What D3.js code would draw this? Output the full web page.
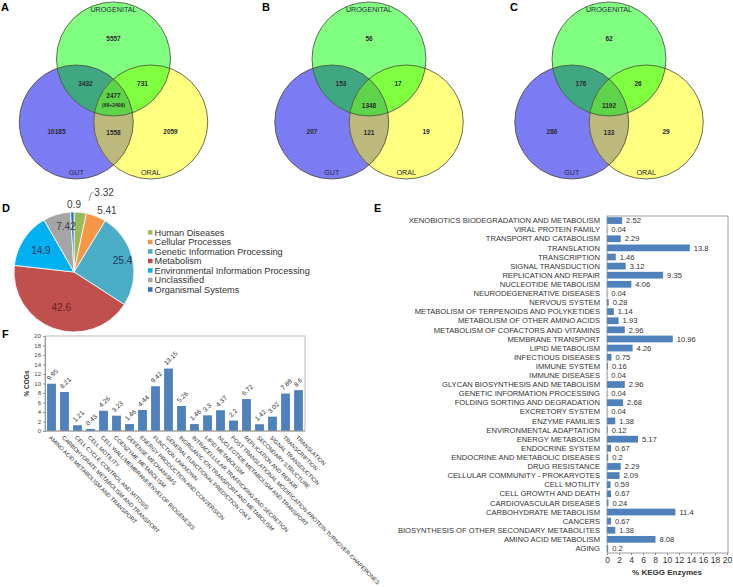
<!DOCTYPE html>
<html><head><meta charset="utf-8">
<script src="https://cdn.jsdelivr.net/npm/d3@7"></script>
<style>body{margin:0;background:#fff}svg{display:block;font-family:"Liberation Sans",Arial,sans-serif}</style>
</head><body><svg id="c" width="733" height="587"></svg>
<script>
// ---------- DATA ----------
const vennSetNames = ["UROGENITAL", "GUT", "ORAL"];
const vennRegionKeys = ["U", "G", "O", "UG", "UO", "GO", "UGO"];
const vennA = [5557, 10185, 2059, 3432, 731, 1558, 2477];
const vennB = [56, 207, 19, 153, 17, 121, 1348];
const vennC = [62, 286, 29, 176, 26, 133, 1192];
const vennANote = "(68+2409)";

const pieCategories = ["Human Diseases", "Cellular Processes", "Genetic Information Processing", "Metabolism", "Environmental Information Processing", "Unclassified", "Organismal Systems"];
const pieValues = [3.32, 5.41, 25.4, 42.6, 14.9, 7.42, 0.9];
const pieLabels = ["3.32", "5.41", "25.4", "42.6", "14.9", "7.42", "0.9"];

const keggCategories = ["XENOBIOTICS BIODEGRADATION AND METABOLISM", "VIRAL PROTEIN FAMILY", "TRANSPORT AND CATABOLISM", "TRANSLATION", "TRANSCRIPTION", "SIGNAL TRANSDUCTION", "REPLICATION AND REPAIR", "NUCLEOTIDE METABOLISM", "NEURODEGENERATIVE DISEASES", "NERVOUS SYSTEM", "METABOLISM OF TERPENOIDS AND POLYKETIDES", "METABOLISM OF OTHER AMINO ACIDS", "METABOLISM OF COFACTORS AND VITAMINS", "MEMBRANE TRANSPORT", "LIPID METABOLISM", "INFECTIOUS DISEASES", "IMMUNE SYSTEM", "IMMUNE DISEASES", "GLYCAN BIOSYNTHESIS AND METABOLISM", "GENETIC INFORMATION PROCESSING", "FOLDING SORTING AND DEGRADATION", "EXCRETORY SYSTEM", "ENZYME FAMILIES", "ENVIRONMENTAL ADAPTATION", "ENERGY METABOLISM", "ENDOCRINE SYSTEM", "ENDOCRINE AND METABOLIC DISEASES", "DRUG RESISTANCE", "CELLULAR COMMUNITY - PROKARYOTES", "CELL MOTILITY", "CELL GROWTH AND DEATH", "CARDIOVASCULAR DISEASES", "CARBOHYDRATE METABOLISM", "CANCERS", "BIOSYNTHESIS OF OTHER SECONDARY METABOLITES", "AMINO ACID METABOLISM", "AGING"];
const keggValues = [2.52, 0.04, 2.29, 13.8, 1.46, 3.12, 9.35, 4.06, 0.04, 0.28, 1.14, 1.93, 2.96, 10.96, 4.26, 0.75, 0.16, 0.04, 2.96, 0.04, 2.68, 0.04, 1.38, 0.12, 5.17, 0.67, 0.2, 2.29, 2.09, 0.59, 0.67, 0.24, 11.4, 0.67, 1.38, 8.08, 0.2];
const keggTicks = [0, 2, 4, 6, 8, 10, 12, 14, 16, 18, 20];

const cogCategories = ["AMINO ACID METABOLISM AND TRANSPORT", "CARBOHYDRATE METABOLISM AND TRANSPORT", "CELL CYCLE CONTROL AND MITOSIS", "CELL MOTILITY", "CELL WALL/MEMBRANE/ENVELOP BIOGENESIS", "COENZYME METABOLISM", "DEFENSE MECHANISMS", "ENERGY PRODUCTION AND CONVERSION", "FUNCTION UNKNOWN", "GENERAL FUNCTIONAL PREDICTION ONLY", "INORGANIC ION TRANSPORT AND METABOLISM", "INTRACELLULAR TRAFFICKING AND SECRETION", "LIPID METABOLISM", "NUCLEOTIDE METABOLISM AND TRANSPORT", "POST TRANSLATIONAL MODIFICATION-PROTEIN TURNOVER-CHAPERONES", "REPLICATION AND REPAIR", "SECONDARY STRUCTURE", "SIGNAL TRANSDUCTION", "TRANSCRIPTION", "TRANSLATION"];
const cogValues = [9.95, 8.21, 1.21, 0.43, 4.26, 3.23, 1.46, 4.44, 9.42, 13.15, 5.26, 1.46, 3.3, 4.37, 2.2, 6.72, 1.42, 3.02, 7.89, 8.6];
const cogTicks = [0, 2, 4, 6, 8, 10, 12, 14, 16, 18, 20];

// ---------- STYLE ----------
const pieColors = ["#9bbb59", "#f79646", "#4bacc6", "#c0504d", "#00b0f0", "#a5a5a5", "#2f6fc0"];
const pieLabelColors = ["#404040", "#404040", "#17375e", "#632523", "#17375e", "#404040", "#404040"];
const barColor = "#4f81bd";

const svg = d3.select("#c");
const defs = svg.append("defs");

// ---------- VENN ----------
function venn(id, ux, letter, letterX, values, note) {
  const r = 57, uy = 59, gy = 122, dx = 37.25;
  const C = {U: [ux, uy], G: [ux - dx, gy], O: [ux + dx, gy]};
  const g = svg.append("g");
  ["U", "G", "O"].forEach(k => defs.append("clipPath").attr("id", id + k)
    .append("circle").attr("cx", C[k][0]).attr("cy", C[k][1]).attr("r", r));
  const circ = (sel, k) => sel.append("circle").attr("cx", C[k][0]).attr("cy", C[k][1]).attr("r", r);
  circ(g, "G").attr("fill", "#7b7bf3");
  circ(g, "O").attr("fill", "#ffff80");
  circ(g, "U").attr("fill", "#80ff80");
  circ(g, "G").attr("fill", "#3fa882").attr("clip-path", `url(#${id}U)`);
  circ(g, "O").attr("fill", "#80ff40").attr("clip-path", `url(#${id}U)`);
  circ(g, "O").attr("fill", "#bdb97d").attr("clip-path", `url(#${id}G)`);
  circ(g.append("g").attr("clip-path", `url(#${id}U)`), "O").attr("fill", "#5ed44a").attr("clip-path", `url(#${id}G)`);
  ["U", "G", "O"].forEach(k => circ(g, k).attr("fill", "none").attr("stroke", "#4a4a38").attr("stroke-width", 0.8));
  const pos = {
    U: [ux, 41], G: [ux - 57, 134], O: [ux + 57, 134],
    UG: [ux - 28, 86], UO: [ux + 29, 86], GO: [ux, 135], UGO: [ux, note ? 98 : 108]
  };
  vennRegionKeys.forEach((k, i) => {
    g.append("text").attr("x", pos[k][0]).attr("y", pos[k][1]).attr("text-anchor", "middle")
      .attr("font-size", 6.5).attr("font-weight", "bold").attr("fill", "#2a2a2a").text(values[i]);
  });
  if (note) g.append("text").attr("x", ux).attr("y", 107).attr("text-anchor", "middle")
    .attr("font-size", 5).attr("font-weight", "bold").attr("fill", "#2a2a2a").text(note);
  const lab = [[ux, 12], [ux - dx, 175], [ux + dx, 175]];
  vennSetNames.forEach((n, i) => g.append("text").attr("x", lab[i][0]).attr("y", lab[i][1])
    .attr("text-anchor", "middle").attr("font-size", 7.2).attr("fill", "#2a2a3a").text(n));
  svg.append("text").attr("x", letterX).attr("y", 11).attr("font-size", 11).attr("font-weight", "bold").text(letter);
}
venn("va", 113.5, "A", 1, vennA, vennANote);
venn("vb", 369, "B", 262, vennB, null);
venn("vc", 609, "C", 510, vennC, null);

// ---------- PIE (D) ----------
{
  const cx = 74, cy = 272, R = 60;
  const g = svg.append("g").attr("transform", `translate(${cx},${cy})`);
  const arcs = d3.pie().sort(null).value(d => d)(pieValues);
  const arc = d3.arc().innerRadius(0).outerRadius(R);
  g.selectAll("path").data(arcs).join("path").attr("d", arc)
    .attr("fill", (d, i) => pieColors[i]).attr("stroke", "#fff").attr("stroke-width", 0.8);
  // label placement (polar: angle in degrees, radius factor)
  const lp = [[20.8, 1.41], [28, 1.17], null, null, null, [350, 0.77], [0, 1.12]];
  const rf = [0, 0, 0.83, 0.63, 0.66, 0.77, 1.12];
  arcs.forEach((a, i) => {
    const ang = lp[i] ? lp[i][0] * Math.PI / 180 : (a.startAngle + a.endAngle) / 2;
    const rr = (lp[i] ? lp[i][1] : rf[i]) * R;
    const x = rr * Math.sin(ang), y = -rr * Math.cos(ang);
    g.append("text").attr("x", x).attr("y", y).attr("dy", "0.35em").attr("text-anchor", "middle")
      .attr("font-size", 10).attr("fill", pieLabelColors[i]).text(pieLabels[i]);
    if (i === 0) {
      const p = d3.path();
      p.moveTo(x - 15, y + 8);
      p.lineTo(x - 13.5, y + 2);
      p.quadraticCurveTo(x - 12.5, y - 0.5, x - 10.5, y - 0.8);
      g.append("path").attr("d", p.toString())
        .attr("fill", "none").attr("stroke", "#555").attr("stroke-width", 0.6);
    }
  });
  svg.append("text").attr("x", 2).attr("y", 212).attr("font-size", 11).attr("font-weight", "bold").text("D");
  const lg = svg.append("g").attr("transform", "translate(148,232.5)");
  pieCategories.forEach((c, i) => {
    lg.append("rect").attr("x", 0).attr("y", i * 9.5 - 2.3).attr("width", 4.5).attr("height", 4.5).attr("fill", pieColors[i]);
    lg.append("text").attr("x", 6.5).attr("y", i * 9.5).attr("dy", "0.35em").attr("font-size", 9.2).attr("fill", "#333").text(c);
  });
}

// ---------- KEGG (E) ----------
{
  const x0 = 607, x1 = 727, y0 = 216, y1 = 553;
  const x = d3.scaleLinear().domain([0, 20]).range([x0, x1]);
  const y = d3.scaleBand().domain(keggCategories).range([y0, y1]).paddingInner(0.26).paddingOuter(0.13);
  const g = svg.append("g");
  g.selectAll("rect.b").data(keggValues).join("rect").attr("class", "b")
    .attr("x", x(0)).attr("y", (d, i) => y(keggCategories[i])).attr("width", d => x(d) - x(0))
    .attr("height", y.bandwidth()).attr("fill", barColor);
  g.append("rect").attr("x", x0).attr("y", y0).attr("width", x1 - x0 + 1).attr("height", y1 - y0)
    .attr("fill", "none").attr("stroke", "#8a8a8a").attr("stroke-width", 0.8);
  g.selectAll("text.c").data(keggCategories).join("text").attr("class", "c")
    .attr("x", x0 - 7).attr("y", d => y(d) + y.bandwidth() / 2).attr("dy", "0.35em")
    .attr("text-anchor", "end").attr("font-size", 7.6).attr("fill", "#333").text(d => d);
  g.selectAll("text.v").data(keggValues).join("text").attr("class", "v")
    .attr("x", d => x(d) + 4).attr("y", (d, i) => y(keggCategories[i]) + y.bandwidth() / 2).attr("dy", "0.35em")
    .attr("font-size", 7.6).attr("fill", "#333").text(d => d);
  const ax = g.append("g").attr("transform", `translate(0,${y1})`)
    .call(d3.axisBottom(x).tickValues(keggTicks).tickSize(2).tickPadding(2).tickFormat(d3.format("d")));
  ax.select(".domain").remove();
  ax.selectAll("line").attr("stroke", "#8a8a8a");
  ax.selectAll("text").attr("font-size", 8.5).attr("fill", "#333").attr("font-family", "Liberation Sans, Arial, sans-serif");
  g.append("text").attr("x", (x0 + x1) / 2).attr("y", 575).attr("text-anchor", "middle")
    .attr("font-size", 8).attr("font-weight", "bold").attr("fill", "#333").text("% KEGG Enzymes");
  svg.append("text").attr("x", 374).attr("y", 212).attr("font-size", 11).attr("font-weight", "bold").text("E");
}

// ---------- COG (F) ----------
{
  const x0 = 45, x1 = 305, yTop = 336, yBot = 431;
  const x = d3.scaleBand().domain(cogCategories).range([x0, x1]).paddingInner(0.32).paddingOuter(0.16);
  const y = d3.scaleLinear().domain([0, 20]).range([yBot, yTop]);
  const g = svg.append("g");
  g.append("rect").attr("x", x0).attr("y", yTop).attr("width", x1 - x0).attr("height", yBot - yTop)
    .attr("fill", "none").attr("stroke", "#aaa").attr("stroke-width", 0.8);
  g.selectAll("rect.b").data(cogValues).join("rect").attr("class", "b")
    .attr("x", (d, i) => x(cogCategories[i])).attr("y", d => y(d)).attr("width", x.bandwidth())
    .attr("height", d => yBot - y(d)).attr("fill", barColor);
  const ay = g.append("g").attr("transform", `translate(${x0},0)`)
    .call(d3.axisLeft(y).tickValues(cogTicks).tickSize(2).tickPadding(2));
  ay.select(".domain").attr("stroke", "#999");
  ay.selectAll("line").attr("stroke", "#999");
  ay.selectAll("text").attr("font-size", 6).attr("fill", "#444").attr("font-family", "Liberation Sans, Arial, sans-serif");
  g.append("line").attr("x1", x0).attr("x2", x1).attr("y1", yBot).attr("y2", yBot).attr("stroke", "#999");
  g.selectAll("text.v").data(cogValues).join("text").attr("class", "v")
    .attr("transform", (d, i) => `translate(${x(cogCategories[i]) + x.bandwidth() / 2 - 2},${y(d) - 3}) rotate(-45)`)
    .attr("font-size", 6.5).attr("fill", "#333").text(d => d);
  g.selectAll("text.c").data(cogCategories).join("text").attr("class", "c")
    .attr("transform", d => `translate(${x(d) + x.bandwidth() / 2 - 3},${yBot + 7}) rotate(45)`)
    .attr("font-size", 5.7).attr("fill", "#333").text(d => d);
  g.append("text").attr("transform", `translate(29,${(yTop + yBot) / 2}) rotate(-90)`).attr("text-anchor", "middle")
    .attr("font-size", 6.5).attr("font-weight", "bold").attr("fill", "#333").text("% COGs");
  svg.append("text").attr("x", 2).attr("y", 338).attr("font-size", 11).attr("font-weight", "bold").text("F");
}
</script></body></html>
